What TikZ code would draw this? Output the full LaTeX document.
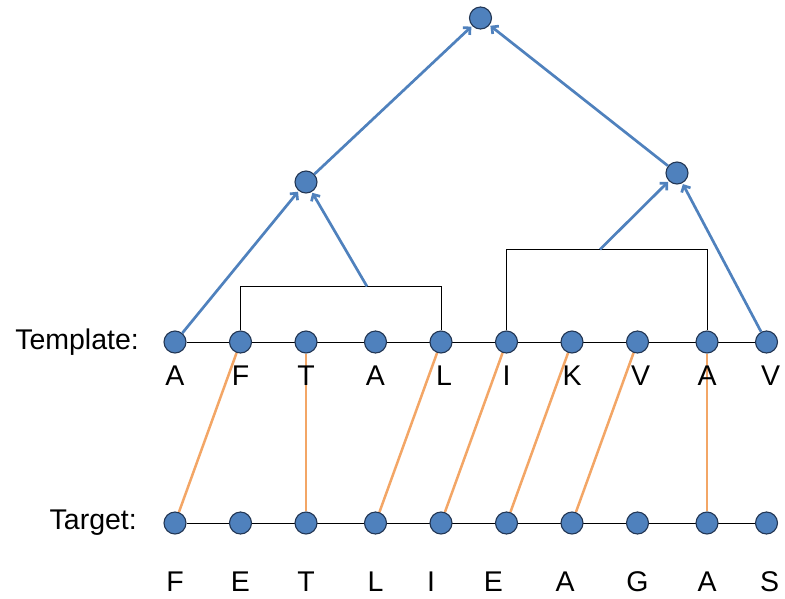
\documentclass[tikz,border=0pt]{standalone}
\usepackage{fontspec}
\setmainfont{Liberation Sans}
\usetikzlibrary{arrows.meta,positioning,backgrounds}
\definecolor{dotblue}{RGB}{79,129,189}
\definecolor{dotedge}{RGB}{34,54,84}
\definecolor{linkorange}{RGB}{243,166,102}

\begin{document}
\begin{tikzpicture}[x=1pt,y=-1pt,
node distance=65.5pt,
semithick, font=\fontsize{28.5}{32}\selectfont]

\tikzstyle{resdot}=[circle, minimum size=22pt, inner sep=0pt,
fill=dotblue, draw=dotedge, line width=1.1pt]

\tikzstyle{resname}=[inner sep=0pt, text height=20pt, text depth=0pt]

\tikzstyle{treearrow}=[-{Straight Barb[length=5pt,width=10pt]}, draw=dotblue,
line width=2.7pt, shorten >=1pt]

\tikzstyle{alignline}=[draw=linkorange, line width=2.5pt]

\useasboundingbox (0,0) rectangle (785,598);

%template row
\node[resdot] (t1) at (175,342) {};
\node[resdot] (t2) [right of=t1] {};
\node[resdot] (t3) [right of=t2] {};
\node[resdot] (t4) [right of=t3, xshift=4pt] {};
\node[resdot] (t5) [right of=t4] {};
\node[resdot] (t6) [right of=t5] {};
\node[resdot] (t7) [right of=t6] {};
\node[resdot] (t8) [right of=t7] {};
\node[resdot] (t9) [right of=t8, xshift=4pt] {};
\node[resdot] (t10) [right of=t9, xshift=-6pt] {};

%target row
\node[resdot] (u1) [below of=t1, node distance=181pt] {};
\node[resdot] (u2) [below of=t2, node distance=181pt] {};
\node[resdot] (u3) [below of=t3, node distance=181pt] {};
\node[resdot] (u4) [below of=t4, node distance=181pt] {};
\node[resdot] (u5) [below of=t5, node distance=181pt] {};
\node[resdot] (u6) [below of=t6, node distance=181pt] {};
\node[resdot] (u7) [below of=t7, node distance=181pt] {};
\node[resdot] (u8) [below of=t8, node distance=181pt] {};
\node[resdot] (u9) [below of=t9, node distance=181pt] {};
\node[resdot] (u10) [below of=t10, node distance=181pt] {};

%tree
\node[resdot] (m1) [above of=t3, node distance=160pt] {};
\node[resdot] (m2) [above of=t9, node distance=169pt, xshift=-30pt] {};
\node[resdot] (root) [above of=t6, node distance=324pt, xshift=-26pt] {};

%row labels
\node (tlabel) [left=21pt of t1] {Template:};
\node (ulabel) [left=23pt of u1] {Target:};

%residues
\node[resname] (a1) [below of=t1, node distance=33pt] {A};
\node[resname] (a2) [below of=t2, node distance=33pt] {F};
\node[resname] (a3) [below of=t3, node distance=33pt] {T};
\node[resname] (a4) [below of=t4, node distance=33pt] {A};
\node[resname] (a5) [below of=t5, node distance=33pt, xshift=3pt] {L};
\node[resname] (a6) [below of=t6, node distance=33pt] {I};
\node[resname] (a7) [below of=t7, node distance=33pt] {K};
\node[resname] (a8) [below of=t8, node distance=33pt, xshift=3pt] {V};
\node[resname] (a9) [below of=t9, node distance=33pt] {A};
\node[resname] (a10) [below of=t10, node distance=33pt, xshift=4pt] {V};

\node[resname] (b1) [below of=u1, node distance=58pt] {F};
\node[resname] (b2) [below of=u2, node distance=58pt] {E};
\node[resname] (b3) [below of=u3, node distance=58pt] {T};
\node[resname] (b4) [below of=u4, node distance=58pt] {L};
\node[resname] (b5) [below of=u5, node distance=58pt, xshift=-10pt] {I};
\node[resname] (b6) [below of=u6, node distance=58pt, xshift=-13pt] {E};
\node[resname] (b7) [below of=u7, node distance=58pt, xshift=-7pt] {A};
\node[resname] (b8) [below of=u8, node distance=58pt] {G};
\node[resname] (b9) [below of=u9, node distance=58pt] {A};
\node[resname] (b10) [below of=u10, node distance=58pt, xshift=3pt] {S};

\begin{scope}[on background layer]
\draw (t1) -- (t10);
\draw (u1) -- (u10);

%brackets
\draw (t2.north) -- ++(0,-44) coordinate (lbl) -| (t5.north);
\draw (t6.north) -- ++(0,-81) coordinate (rbl) -| (t9.north);
\path (lbl) ++(126.5,0) coordinate (lb);
\path (rbl) ++(93.5,0) coordinate (rb);

%alignment
\path (u1) edge[alignline] (t2);
\path (u3) edge[alignline] (t3);
\path (u4) edge[alignline] (t5);
\path (u5) edge[alignline] (t6);
\path (u6) edge[alignline] (t7);
\path (u7) edge[alignline] (t8);
\path (u9) edge[alignline] (t9);
\end{scope}

\path (t1) edge[treearrow] (m1);
\path (lb) edge[treearrow] (m1);
\path (rb) edge[treearrow] (m2);
\path (t10) edge[treearrow] (m2);
\path (m1) edge[treearrow] (root);
\path (m2) edge[treearrow] (root);

\end{tikzpicture}
\end{document}
